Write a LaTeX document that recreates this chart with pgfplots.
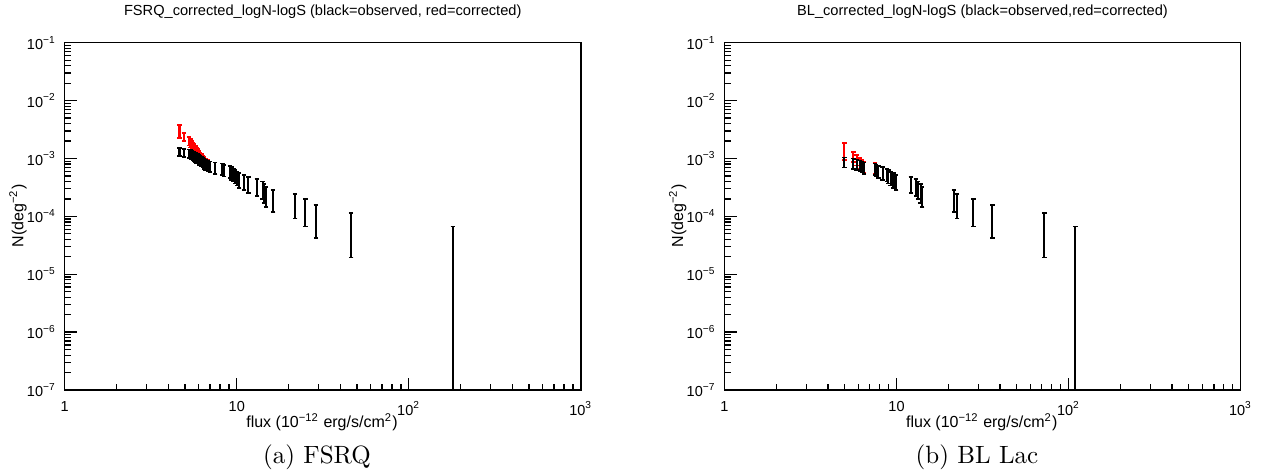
\documentclass[border=0pt]{standalone}
\usepackage{fontspec}
\newfontfamily\arial{Liberation Sans}
\usepackage{pgfplots}
\pgfplotsset{compat=1.18}
\usepackage{pgfplotstable}

\pgfplotstableread{
x y e
180.3 3.333e-5 3.332e-5
46.2 6.667e-5 4.714e-5
28.80 1.000e-4 5.774e-5
25.05 1.333e-4 6.667e-5
21.83 1.667e-4 7.454e-5
16.26 2.000e-4 8.165e-5
14.75 2.333e-4 8.819e-5
14.41 2.667e-4 9.428e-5
14.16 3.000e-4 1.000e-4
13.07 3.333e-4 1.054e-4
11.68 3.667e-4 1.106e-4
11.03 4.000e-4 1.155e-4
10.31 4.333e-4 1.202e-4
10.05 4.667e-4 1.247e-4
9.80 5.000e-4 1.291e-4
9.57 5.333e-4 1.333e-4
9.35 5.667e-4 1.374e-4
9.14 6.000e-4 1.414e-4
8.41 6.333e-4 1.453e-4
8.25 6.667e-4 1.491e-4
7.48 7.000e-4 1.528e-4
6.98 7.333e-4 1.563e-4
6.79 7.667e-4 1.599e-4
6.60 8.000e-4 1.633e-4
6.43 8.333e-4 1.667e-4
6.35 8.667e-4 1.700e-4
6.25 9.000e-4 1.732e-4
6.09 9.333e-4 1.764e-4
6.02 9.667e-4 1.795e-4
5.92 1.000e-3 1.826e-4
5.85 1.033e-3 1.856e-4
5.76 1.067e-3 1.886e-4
5.65 1.100e-3 1.915e-4
5.55 1.133e-3 1.944e-4
5.45 1.167e-3 1.972e-4
5.38 1.200e-3 2.000e-4
5.28 1.233e-3 2.028e-4
4.93 1.267e-3 2.055e-4
4.65 1.300e-3 2.082e-4
}\fsrqblack

\pgfplotstableread{
x y e
180.3 3.333e-5 3.332e-5
46.2 6.667e-5 4.714e-5
28.80 1.000e-4 5.774e-5
25.05 1.333e-4 6.667e-5
21.83 1.667e-4 7.454e-5
16.26 2.000e-4 8.165e-5
14.75 2.333e-4 8.819e-5
14.41 2.667e-4 9.428e-5
14.16 3.000e-4 1.000e-4
13.07 3.333e-4 1.054e-4
11.68 3.667e-4 1.106e-4
11.03 4.000e-4 1.155e-4
10.31 4.333e-4 1.202e-4
10.05 4.667e-4 1.247e-4
9.80 5.000e-4 1.291e-4
9.57 5.333e-4 1.333e-4
9.35 5.667e-4 1.374e-4
9.14 6.000e-4 1.414e-4
8.41 6.333e-4 1.453e-4
8.25 6.667e-4 1.491e-4
7.48 7.000e-4 1.528e-4
6.98 7.333e-4 1.563e-4
6.79 7.744e-4 1.615e-4
6.60 8.240e-4 1.682e-4
6.43 8.750e-4 1.750e-4
6.35 9.360e-4 1.836e-4
6.25 9.990e-4 1.923e-4
6.09 1.064e-3 2.011e-4
6.02 1.141e-3 2.118e-4
5.92 1.220e-3 2.228e-4
5.85 1.302e-3 2.339e-4
5.76 1.398e-3 2.471e-4
5.65 1.496e-3 2.604e-4
5.55 1.609e-3 2.760e-4
5.45 1.727e-3 2.919e-4
5.38 1.860e-3 3.100e-4
5.28 1.998e-3 3.285e-4
4.93 2.369e-3 3.843e-4
4.65 3.030e-3 7.800e-4
}\fsrqred

\pgfplotstableread{
x y e
109.5 3.333e-5 3.332e-5
72.3 6.667e-5 4.714e-5
36.1 1.000e-4 5.774e-5
28.0 1.333e-4 6.667e-5
22.4 1.667e-4 7.454e-5
21.6 2.000e-4 8.165e-5
14.1 2.333e-4 8.819e-5
13.8 2.667e-4 9.428e-5
13.3 3.000e-4 1.000e-4
13.0 3.333e-4 1.054e-4
12.1 3.667e-4 1.106e-4
9.94 4.000e-4 1.155e-4
9.60 4.333e-4 1.202e-4
9.25 4.667e-4 1.247e-4
8.96 5.000e-4 1.291e-4
8.80 5.333e-4 1.333e-4
8.31 5.667e-4 1.374e-4
7.84 6.000e-4 1.414e-4
7.60 6.333e-4 1.453e-4
7.50 6.667e-4 1.491e-4
6.45 7.000e-4 1.528e-4
6.30 7.333e-4 1.563e-4
6.13 7.667e-4 1.599e-4
5.87 8.000e-4 1.633e-4
5.61 8.333e-4 1.667e-4
4.97 8.667e-4 1.700e-4
}\blblack

\pgfplotstableread{
x y e
109.5 3.333e-5 3.332e-5
72.3 6.667e-5 4.714e-5
36.1 1.000e-4 5.774e-5
28.0 1.333e-4 6.667e-5
22.4 1.667e-4 7.454e-5
21.6 2.000e-4 8.165e-5
14.1 2.333e-4 8.819e-5
13.8 2.667e-4 9.428e-5
13.3 3.000e-4 1.000e-4
13.0 3.333e-4 1.054e-4
12.1 3.667e-4 1.106e-4
9.94 4.000e-4 1.155e-4
9.60 4.333e-4 1.202e-4
9.25 4.667e-4 1.247e-4
8.96 5.000e-4 1.291e-4
8.80 5.333e-4 1.333e-4
8.31 5.667e-4 1.374e-4
7.84 6.000e-4 1.414e-4
7.60 6.333e-4 1.453e-4
7.50 6.867e-4 1.536e-4
6.45 7.280e-4 1.589e-4
6.30 7.773e-4 1.657e-4
6.13 8.357e-4 1.743e-4
5.87 9.520e-4 1.943e-4
5.61 1.092e-3 2.184e-4
4.97 1.400e-3 4.700e-4
}\blred

\begin{document}
\begin{tikzpicture}
\useasboundingbox (0pt,0pt) rectangle (508pt,189.2pt);
\begin{axis}[
    at={(25.9pt,33.2pt)}, anchor=south west,
    xmode=log, ymode=log,
    xmin=1, xmax=1000, ymin=1e-7, ymax=1e-1,
    scale only axis, width=206.4pt, height=138.9pt,
    axis line style={line width=0.6pt},
    tick align=inside, xtick pos=bottom, ytick pos=left,
    major tick length=5pt, minor tick length=2.5pt,
    tick style={black, line width=0.5pt},
    xtick={1,10,100,1000},
    xticklabels={1,10,10\textsuperscript{2},10\textsuperscript{3}},
    minor xtick={2,3,4,5,6,7,8,9,20,30,40,50,60,70,80,90,200,300,400,500,600,700,800,900},
    ytick={1e-7,1e-6,1e-5,1e-4,1e-3,1e-2,1e-1},
    yticklabels={10\textsuperscript{−7},10\textsuperscript{−6},10\textsuperscript{−5},10\textsuperscript{−4},10\textsuperscript{−3},10\textsuperscript{−2},10\textsuperscript{−1}},
    minor ytick={2e-7,3e-7,4e-7,5e-7,6e-7,7e-7,8e-7,9e-7,2e-6,3e-6,4e-6,5e-6,6e-6,7e-6,8e-6,9e-6,2e-5,3e-5,4e-5,5e-5,6e-5,7e-5,8e-5,9e-5,2e-4,3e-4,4e-4,5e-4,6e-4,7e-4,8e-4,9e-4,2e-3,3e-3,4e-3,5e-3,6e-3,7e-3,8e-3,9e-3,2e-2,3e-2,4e-2,5e-2,6e-2,7e-2,8e-2,9e-2},
    tick label style={font=\arial\fontsize{5.8}{7}\selectfont},
    xticklabel style={yshift=-1.2pt},
  ]
\addplot[draw=none, mark=none,
  error bars/.cd, y dir=both, y explicit,
  error bar style={draw=red, line width=0.85pt},
  error mark options={rotate=90, draw=red, line width=0.7pt, mark size=0.9pt}]
  table[x=x,y=y,y error=e] {\fsrqred};
\addplot[draw=none, mark=none,
  error bars/.cd, y dir=both, y explicit,
  error bar style={draw=black, line width=0.85pt},
  error mark options={rotate=90, draw=black, line width=0.7pt, mark size=0.9pt}]
  table[x=x,y=y,y error=e] {\fsrqblack};
\end{axis}
\begin{axis}[
    at={(289.8pt,33.2pt)}, anchor=south west,
    xmode=log, ymode=log,
    xmin=1, xmax=1000, ymin=1e-7, ymax=1e-1,
    scale only axis, width=206.4pt, height=138.9pt,
    axis line style={line width=0.6pt},
    tick align=inside, xtick pos=bottom, ytick pos=left,
    major tick length=5pt, minor tick length=2.5pt,
    tick style={black, line width=0.5pt},
    xtick={1,10,100,1000},
    xticklabels={1,10,10\textsuperscript{2},10\textsuperscript{3}},
    minor xtick={2,3,4,5,6,7,8,9,20,30,40,50,60,70,80,90,200,300,400,500,600,700,800,900},
    ytick={1e-7,1e-6,1e-5,1e-4,1e-3,1e-2,1e-1},
    yticklabels={10\textsuperscript{−7},10\textsuperscript{−6},10\textsuperscript{−5},10\textsuperscript{−4},10\textsuperscript{−3},10\textsuperscript{−2},10\textsuperscript{−1}},
    minor ytick={2e-7,3e-7,4e-7,5e-7,6e-7,7e-7,8e-7,9e-7,2e-6,3e-6,4e-6,5e-6,6e-6,7e-6,8e-6,9e-6,2e-5,3e-5,4e-5,5e-5,6e-5,7e-5,8e-5,9e-5,2e-4,3e-4,4e-4,5e-4,6e-4,7e-4,8e-4,9e-4,2e-3,3e-3,4e-3,5e-3,6e-3,7e-3,8e-3,9e-3,2e-2,3e-2,4e-2,5e-2,6e-2,7e-2,8e-2,9e-2},
    tick label style={font=\arial\fontsize{5.8}{7}\selectfont},
    xticklabel style={yshift=-1.2pt},
  ]
\addplot[draw=none, mark=none,
  error bars/.cd, y dir=both, y explicit,
  error bar style={draw=red, line width=0.85pt},
  error mark options={rotate=90, draw=red, line width=0.7pt, mark size=0.9pt}]
  table[x=x,y=y,y error=e] {\blred};
\addplot[draw=none, mark=none,
  error bars/.cd, y dir=both, y explicit,
  error bar style={draw=black, line width=0.85pt},
  error mark options={rotate=90, draw=black, line width=0.7pt, mark size=0.9pt}]
  table[x=x,y=y,y error=e] {\blblack};
\end{axis}
\node[font=\arial\fontsize{5.85}{7}\selectfont] at (129.1pt,184.4pt) {FSRQ\_corrected\_logN-logS (black=observed, red=corrected)};
\node[font=\arial\fontsize{5.85}{7}\selectfont] at (393.0pt,184.4pt) {BL\_corrected\_logN-logS (black=observed,red=corrected)};
\node[font=\arial\fontsize{6.4}{8}\selectfont] at (128.8pt,20.4pt) {flux (10\textsuperscript{−12} erg/s/cm\textsuperscript{2})};
\node[font=\arial\fontsize{6.4}{8}\selectfont] at (392.7pt,20.4pt) {flux (10\textsuperscript{−12} erg/s/cm\textsuperscript{2})};
\node[font=\arial\fontsize{6.4}{8}\selectfont, rotate=90] at (7.2pt,102.8pt) {N(deg\textsuperscript{−2})};
\node[font=\arial\fontsize{6.4}{8}\selectfont, rotate=90] at (271.1pt,102.8pt) {N(deg\textsuperscript{−2})};
\node[font=\fontsize{10}{12}\selectfont] at (126.8pt,6.4pt) {(a) FSRQ};
\node[font=\fontsize{10}{12}\selectfont] at (390.8pt,6.4pt) {(b) BL Lac};
\end{tikzpicture}
\end{document}
